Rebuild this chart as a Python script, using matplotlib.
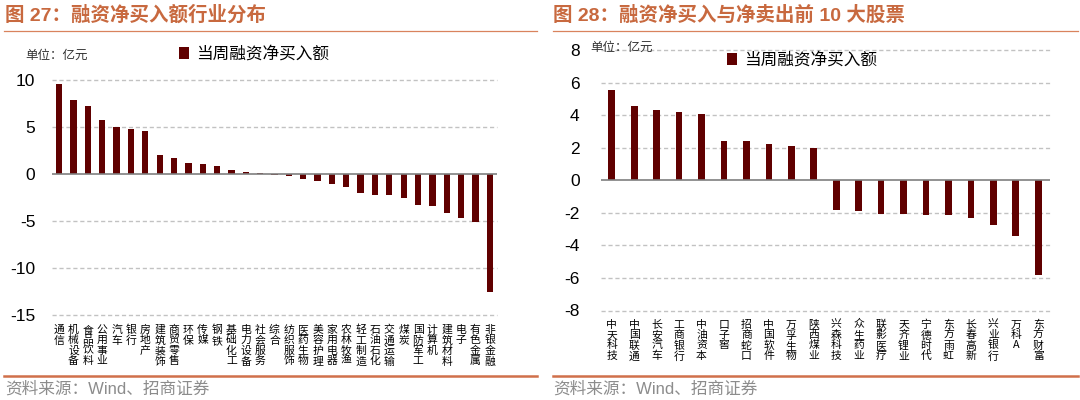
import matplotlib
matplotlib.use("Agg")
import matplotlib.pyplot as plt
from matplotlib.lines import Line2D

plt.rcParams['font.family'] = ['Liberation Sans', 'Noto Sans CJK SC', 'DejaVu Sans']

# ---------------- data ----------------
industries = ["通信", "机械设备", "食品饮料", "公用事业", "汽车", "银行", "房地产", "建筑装饰",
              "商贸零售", "环保", "传媒", "钢铁", "基础化工", "电力设备", "社会服务", "综合",
              "纺织服饰", "医药生物", "美容护理", "家用电器", "农林牧渔", "轻工制造", "石油石化",
              "交通运输", "煤炭", "国防军工", "计算机", "建筑材料", "电子", "有色金属", "非银金融"]
industry_values = [9.6, 7.9, 7.2, 5.7, 4.95, 4.8, 4.6, 2.0, 1.65, 1.15, 1.05, 0.8, 0.47, 0.2,
                   0.12, -0.12, -0.2, -0.57, -0.78, -1.1, -1.38, -1.98, -2.23, -2.26, -2.5,
                   -3.25, -3.43, -4.17, -4.67, -5.13, -12.5]

stocks = ["中天科技", "中国联通", "长安汽车", "工商银行", "中油资本", "口子窖", "招商蛇口",
          "中国软件", "万孚生物", "陕西煤业", "兴森科技", "众生药业", "联影医疗", "天齐锂业",
          "宁德时代", "东方雨虹", "长春高新", "兴业银行", "万科A", "东方财富"]
stock_values = [5.52, 4.56, 4.3, 4.19, 4.09, 2.41, 2.39, 2.21, 2.1, 2.0,
                -1.85, -1.9, -2.1, -2.1, -2.15, -2.15, -2.33, -2.73, -3.4, -5.8]

left_yticks = [-15, -10, -5, 0, 5, 10]
right_yticks = [-8, -6, -4, -2, 0, 2, 4, 6, 8]

series_name = "当周融资净买入额"
unit_text = "单位：亿元"
title_left = "图 27：融资净买入额行业分布"
title_right = "图 28：融资净买入与净卖出前 10 大股票"
source_text = "资料来源：Wind、招商证券"

# ---------------- style ----------------
BAR = "#600000"
ACCENT = "#c8693f"
GRID = "#c2c2c2"
CJK = ['Noto Sans CJK SC', 'DejaVu Sans']

fig = plt.figure(figsize=(10.8, 4.0), dpi=100)
W, H = 1080, 400

def fx(px):
    return px / W

def fy(py):
    return 1 - py / H


def setup_axes(ax, labels, values, yticks, width, xpad, ypad):
    x = list(range(len(labels)))
    ax.bar(x, values, width=width, color=BAR, label=series_name, zorder=3)
    ax.set_xlim(-0.5, len(labels) - 0.5)
    ax.set_ylim(yticks[0], yticks[-1])
    ax.set_yticks(yticks)
    ax.set_yticklabels([str(t) for t in yticks], fontsize=12.5, family=['Liberation Sans'])
    for t in yticks:
        if t != 0:
            ax.axhline(t, color=GRID, lw=1.0, ls=(0, (3, 2)), zorder=1, clip_on=False)
    ax.axhline(0, color="#7f7f7f", lw=1.2, zorder=4)
    ax.set_xticks(x)
    ax.set_xticklabels(["\n".join(lbl) for lbl in labels],
                       fontsize=7.8, family=CJK, va='top', linespacing=1.05)
    ax.tick_params(axis='x', length=0, pad=xpad)
    ax.tick_params(axis='y', length=0, pad=ypad)
    for s in ax.spines.values():
        s.set_visible(False)


# left axes
axL = fig.add_axes([fx(52), fy(315), fx(497 - 52), (315 - 80) / H])
setup_axes(axL, industries, industry_values, left_yticks, 0.44, 7, 12)

# right axes
axR = fig.add_axes([fx(600.5), fy(310.5), fx(1049.5 - 600.5), (310.5 - 50) / H])
setup_axes(axR, stocks, stock_values, right_yticks, 0.30, 6.5, 15)

# legends
axL.legend(loc='center left', bbox_to_anchor=(fx(179), fy(54)), bbox_transform=fig.transFigure,
           frameon=False, handlelength=0.6, handleheight=0.75, handletextpad=0.45,
           borderpad=0, borderaxespad=0, prop={'family': CJK, 'size': 12})
axR.legend(loc='center left', bbox_to_anchor=(fx(727), fy(60)), bbox_transform=fig.transFigure,
           frameon=False, handlelength=0.6, handleheight=0.75, handletextpad=0.45,
           borderpad=0, borderaxespad=0, prop={'family': CJK, 'size': 12})

# unit texts
fig.text(fx(25), fy(55), unit_text, fontsize=9, family=CJK, color="#333333", va='center')
fig.text(fx(590), fy(47), unit_text, fontsize=9, family=CJK, color="#333333", va='center')

# titles
fig.text(fx(5), fy(15), title_left, fontsize=14, fontweight='bold', color=ACCENT,
         family=['Liberation Sans', 'Noto Sans CJK SC'], va='center')
fig.text(fx(553), fy(15), title_right, fontsize=14, fontweight='bold', color=ACCENT,
         family=['Liberation Sans', 'Noto Sans CJK SC'], va='center')

# separator lines
fig.add_artist(Line2D([fx(4), fx(537)], [fy(31), fy(31)], color="#d9835d", lw=0.9))
fig.add_artist(Line2D([fx(553), fx(1078)], [fy(31), fy(31)], color="#d9835d", lw=0.9))
fig.add_artist(Line2D([fx(4), fx(537)], [fy(376), fy(376)], color="#d0704a", lw=1.8))
fig.add_artist(Line2D([fx(553), fx(1078)], [fy(376), fy(376)], color="#d0704a", lw=1.8))

# sources
fig.text(fx(5), fy(389), source_text, fontsize=12, color="#8c8c8c",
         family=['Liberation Sans', 'Noto Sans CJK SC'], va='center')
fig.text(fx(553), fy(389), source_text, fontsize=12, color="#8c8c8c",
         family=['Liberation Sans', 'Noto Sans CJK SC'], va='center')

fig.savefig("out.png", dpi=100, facecolor="white")
